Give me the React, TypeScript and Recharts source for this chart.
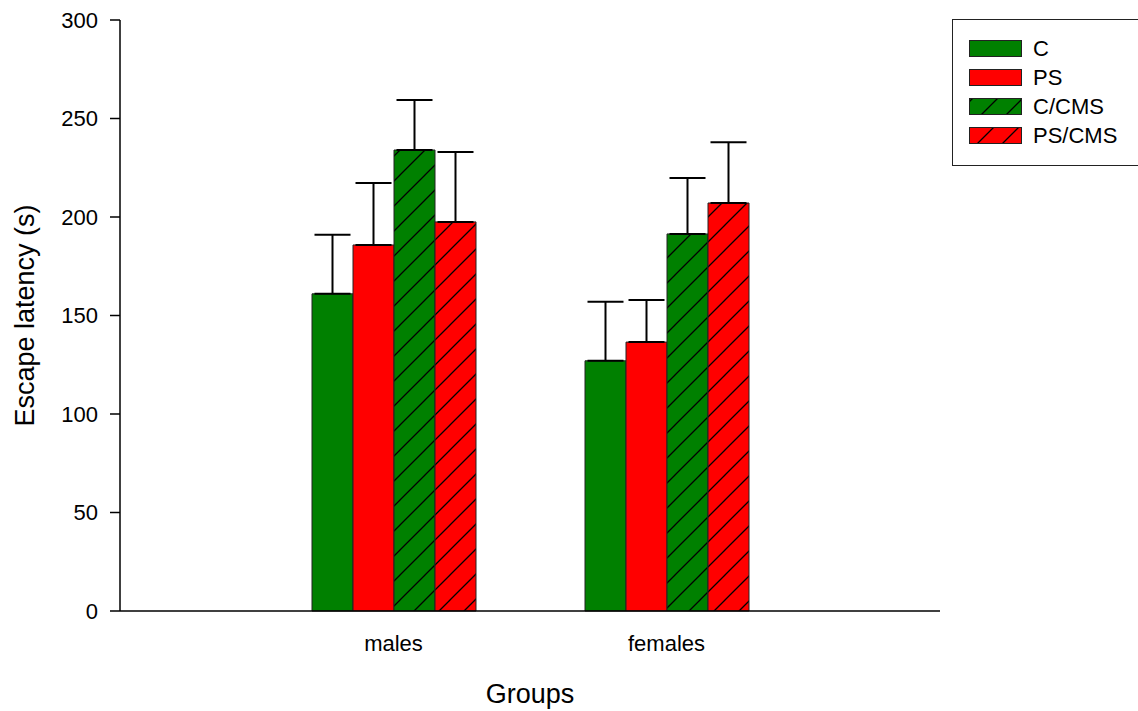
import { Bar, BarChart, ErrorBar, XAxis, YAxis } from 'recharts';

const groups = ['males', 'females'];
const cMean = [161, 127];
const cErr = [30, 30];
const psMean = [185.8, 136.5];
const psErr = [31.5, 21.4];
const cCmsMean = [234, 191.4];
const cCmsErr = [25.4, 28.4];
const psCmsMean = [197.5, 207.1];
const psCmsErr = [35.5, 30.9];
const yTicks = [0, 50, 100, 150, 200, 250, 300];

const GREEN = '#008000';
const RED = '#FF0000';
const FONT = '"Liberation Sans", Arial, sans-serif';

const data = groups.map((g, i) => ({
  group: g,
  C: cMean[i],
  C_err: [0, cErr[i]],
  PS: psMean[i],
  PS_err: [0, psErr[i]],
  CCMS: cCmsMean[i],
  CCMS_err: [0, cCmsErr[i]],
  PSCMS: psCmsMean[i],
  PSCMS_err: [0, psCmsErr[i]],
}));

const series = [
  { key: 'C', name: 'C', fill: GREEN },
  { key: 'PS', name: 'PS', fill: RED },
  { key: 'CCMS', name: 'C/CMS', fill: 'url(#hatch-green)' },
  { key: 'PSCMS', name: 'PS/CMS', fill: 'url(#hatch-red)' },
];

function Hatch({ id, color }: { id: string; color: string }) {
  return (
    <pattern id={id} patternUnits="userSpaceOnUse" width={25} height={25}>
      <rect width={25} height={25} fill={color} />
      <path d="M0,25 L25,0 M-5,5 L5,-5 M20,30 L30,20" stroke="#000" strokeWidth={1.3} />
    </pattern>
  );
}

// legend box sits in the top-right corner, outside the plot area
function LegendBox() {
  return (
    <div style={{
      position: 'absolute', left: 952, top: 19, width: 192, height: 147,
      border: '1px solid #222', background: '#fff', boxSizing: 'border-box', fontFamily: FONT,
    }}>
      <svg width={192} height={147} style={{ position: 'absolute', left: -1, top: -1 }}>
        <defs>
          <Hatch id="lg-green" color={GREEN} />
          <Hatch id="lg-red" color={RED} />
        </defs>
        {series.map((s, i) => (
          <g key={s.key}>
            <rect x={17.5} y={21.5 + i * 29} width={52} height={16}
              fill={s.fill.replace('hatch-', 'lg-')} stroke="#222" />
            <text x={81} y={37 + i * 29} fontSize={22} fill="#000" fontFamily={FONT}>{s.name}</text>
          </g>
        ))}
      </svg>
    </div>
  );
}

export default function App() {
  return (
    <div style={{ position: 'absolute', left: 0, top: 0, width: 1138, height: 711, overflow: 'hidden', background: '#fff' }}>
      <BarChart
        width={1138}
        height={711}
        data={data}
        margin={{ top: 20, right: 198, left: 0, bottom: 0 }}
        barSize={41}
        barGap={0}
      >
        <defs>
          <Hatch id="hatch-green" color={GREEN} />
          <Hatch id="hatch-red" color={RED} />
        </defs>
        <XAxis
          dataKey="group"
          height={100}
          padding={{ left: 137, right: 137 }}
          tickLine={false}
          axisLine={{ stroke: '#000', strokeWidth: 1.5 }}
          tick={{ fontSize: 22, fill: '#000', fontFamily: FONT }}
          tickMargin={18}
          label={{ value: 'Groups', position: 'insideBottom', offset: 8, fontSize: 27, fill: '#000', fontFamily: FONT }}
        />
        <YAxis
          width={120}
          domain={[0, 300]}
          ticks={yTicks}
          interval={0}
          tickSize={10}
          tickMargin={12}
          axisLine={{ stroke: '#000', strokeWidth: 1.5 }}
          tickLine={{ stroke: '#000', strokeWidth: 1.5 }}
          tick={{ fontSize: 22, fill: '#000', fontFamily: FONT }}
          label={{ value: 'Escape latency (s)', angle: -90, position: 'insideLeft', offset: 24, fontSize: 27, fill: '#000', fontFamily: FONT, style: { textAnchor: 'middle' } }}
        />
        {series.map((s) => (
          <Bar key={s.key} dataKey={s.key} name={s.name} fill={s.fill} stroke="#222" strokeWidth={1} isAnimationActive={false}>
            <ErrorBar dataKey={`${s.key}_err`} direction="y" width={18} stroke="#000" strokeWidth={2} isAnimationActive={false} />
          </Bar>
        ))}
      </BarChart>
      <LegendBox />
    </div>
  );
}
